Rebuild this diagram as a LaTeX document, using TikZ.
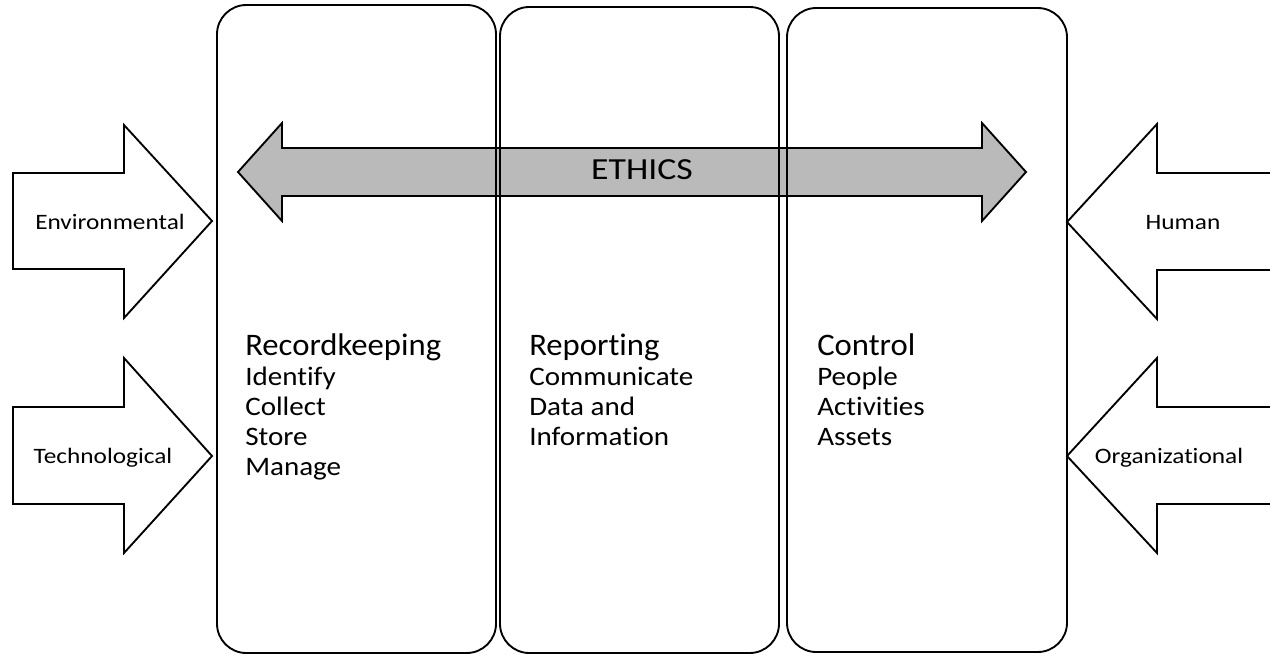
\documentclass[tikz,border=0pt]{standalone}
\usepackage{fontspec}
\setmainfont{Carlito}[Ligatures=NoCommon]
\definecolor{ethicsgray}{RGB}{186,186,186}
% horizontally widened text
\newcommand{\xwide}[2]{\scalebox{#1}[1]{#2}}
\tikzset{
  outline/.style={draw=black, line width=1.4pt, line join=miter},
  panel/.style={draw=black, line width=1.4pt, rounded corners=22pt},
  sidelabel/.style={font=\fontsize{16.5}{19}\selectfont, inner sep=0pt, anchor=base},
  heading/.style={font=\fontsize{23.5}{27}\selectfont, anchor=base west, inner sep=0pt},
  body/.style={font=\fontsize{20}{22.5}\selectfont, anchor=base west, inner sep=0pt},
}
\begin{document}
\begin{tikzpicture}[x=0.75pt, y=-0.75pt]
\useasboundingbox (0,0) rectangle (1270,654);

% two-headed ETHICS arrow (drawn first so the panel edges run across it)
\draw[outline, fill=ethicsgray]
  (238,172) -- (282,123) -- (282,148) -- (982,148) -- (982,123) -- (1026,172)
  -- (982,221) -- (982,196) -- (282,196) -- (282,221) -- cycle;
\node[font=\fontsize{23}{26}\selectfont, inner sep=0pt, anchor=base] (ethics) at (642,179) {\xwide{1.165}{ETHICS}};

% three process panels
\draw[panel] (217,5) rectangle (496,653);
\draw[panel] (500,7) rectangle (779,653);
\draw[panel] (787,8) rectangle (1067,652);

% influences from the left
\draw[outline, fill=white]
  (13,173) -- (124,173) -- (124,125) -- (212,221) -- (124,318) -- (124,269) -- (13,269) -- cycle;
\node[sidelabel] (env) at (110,229) {\xwide{1.15}{Environmental}};
\draw[outline, fill=white]
  (13,407) -- (124,407) -- (124,358) -- (212,456) -- (124,553) -- (124,504) -- (13,504) -- cycle;
\node[sidelabel] (tech) at (103,463) {\xwide{1.15}{Technological}};

% influences from the right
\draw[outline, fill=white]
  (1270,173) -- (1157,173) -- (1157,124) -- (1067,222) -- (1157,319) -- (1157,270) -- (1270,270);
\node[sidelabel] (human) at (1183,229) {\xwide{1.15}{Human}};
\draw[outline, fill=white]
  (1270,407) -- (1157,407) -- (1157,358) -- (1067,456) -- (1157,553) -- (1157,504) -- (1270,504);
\node[sidelabel] (org) at (1169,463) {\xwide{1.15}{Organizational}};

% panel texts (body nodes sit on the baseline of their last line)
\node[heading] (rk) at (245,355) {\xwide{1.043}{Recordkeeping}};
\node[body] (rkitems) at (245,475)
  {\xwide{1.09}{\begin{tabular}[b]{@{}l@{}}Identify\\Collect\\Store\\Manage\end{tabular}}};
\node[heading] (rep) at (529,355) {\xwide{1.043}{Reporting}};
\node[body] (repitems) at (529,445)
  {\xwide{1.09}{\begin{tabular}[b]{@{}l@{}}Communicate\\Data and\\Information\end{tabular}}};
\node[heading] (ctl) at (817,355) {\xwide{1.043}{Control}};
\node[body] (ctlitems) at (817,445)
  {\xwide{1.09}{\begin{tabular}[b]{@{}l@{}}People\\Activities\\Assets\end{tabular}}};
\end{tikzpicture}
\end{document}
